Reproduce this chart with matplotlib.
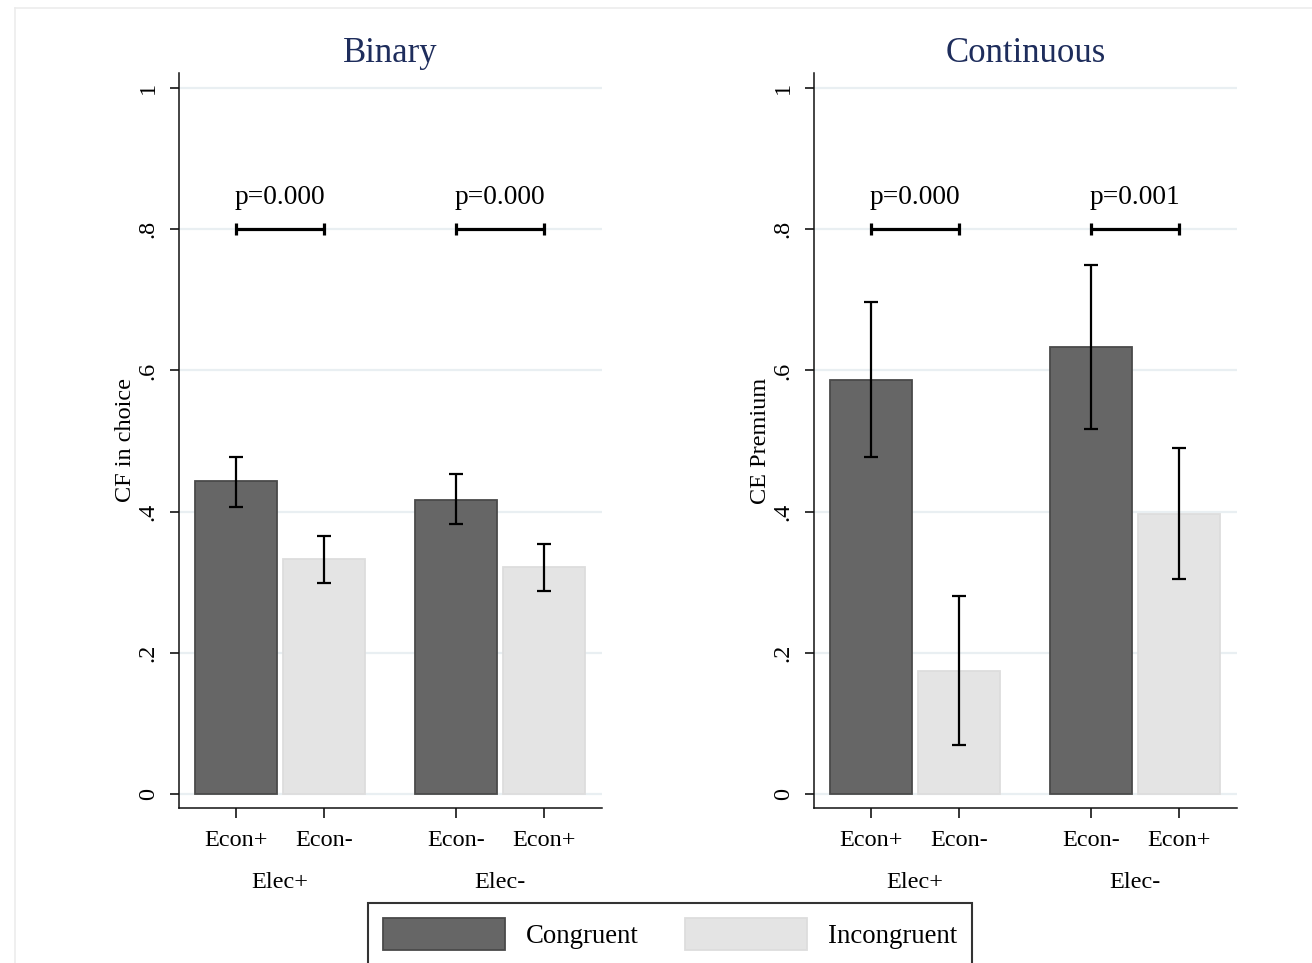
import matplotlib
matplotlib.use("Agg")
import matplotlib.pyplot as plt
from matplotlib.lines import Line2D
import numpy as np

# ---------------- data ----------------
bar_labels = ["Econ+", "Econ-", "Econ-", "Econ+"]
group_labels = ["Elec+", "Elec-"]
series_names = ["Congruent", "Incongruent"]
congruence = [0, 1, 0, 1]  # index into series_names

binary_mean = [0.4428, 0.3324, 0.4164, 0.3211]
binary_lo = [0.4070, 0.2993, 0.3824, 0.2880]
binary_hi = [0.4773, 0.3659, 0.4528, 0.3541]
binary_p = ["p=0.000", "p=0.000"]

cont_mean = [0.5862, 0.1745, 0.6330, 0.3967]
cont_lo = [0.4775, 0.0695, 0.5166, 0.3045]
cont_hi = [0.6973, 0.2808, 0.7498, 0.4898]
cont_p = ["p=0.000", "p=0.001"]

panel_titles = ["Binary", "Continuous"]
ylabels = ["CF in choice", "CE Premium"]
yticks = [0, 0.2, 0.4, 0.6, 0.8, 1.0]
ytick_labels = ["0", ".2", ".4", ".6", ".8", "1"]
bracket_y = 0.8

# ---------------- style ----------------
plt.rcParams['font.family'] = ['Liberation Serif', 'DejaVu Serif']
W, H = 1312, 963
fig = plt.figure(figsize=(W / 100, H / 100), dpi=100)
fig.patch.set_facecolor("white")

colors = ["#666666", "#e4e4e4"]
edges = ["#4a4a4a", "#dddddd"]
title_color = "#1e2d5c"
grid_color = "#e9eff2"

positions = np.array([0.0, 1.0, 2.5, 3.5])
group_centers = [0.5, 3.0]
width = 0.93
xlim = (-0.648, 4.159)
ylim = (-0.0198, 1.0212)

# faint outer graph-region border
fig.add_artist(Line2D([15 / W, 15 / W], [0, 1 - 8 / H], color="#ececec", lw=1.2,
                      transform=fig.transFigure))
fig.add_artist(Line2D([15 / W, 1], [1 - 8 / H, 1 - 8 / H], color="#ececec", lw=1.2,
                      transform=fig.transFigure))

ax_bottom = 1 - 808 / H
ax_height = (808 - 73) / H
lefts = [179, 814]
ax_w = 423

panels = [
    (binary_mean, binary_lo, binary_hi, binary_p),
    (cont_mean, cont_lo, cont_hi, cont_p),
]

handles = [None, None]
for k, (mean, lo, hi, pv) in enumerate(panels):
    ax = fig.add_axes([lefts[k] / W, ax_bottom, ax_w / W, ax_height])
    ax.set_xlim(*xlim)
    ax.set_ylim(*ylim)
    for s in ["top", "right"]:
        ax.spines[s].set_visible(False)
    for s in ["left", "bottom"]:
        ax.spines[s].set_linewidth(1.1)
        ax.spines[s].set_color("#111111")

    # grid
    ax.set_axisbelow(True)
    ax.yaxis.grid(True, color=grid_color, lw=1.6)

    mean = np.array(mean)
    lo = np.array(lo)
    hi = np.array(hi)
    for i in range(len(mean)):
        c = congruence[i]
        b = ax.bar(positions[i], mean[i], width=width, color=colors[c],
                   edgecolor=edges[c], linewidth=1.3, zorder=2)
        if handles[c] is None:
            handles[c] = b
    ax.errorbar(positions, mean, yerr=[mean - lo, hi - mean], fmt="none",
                ecolor="black", elinewidth=1.6, capsize=4.8, capthick=1.6, zorder=3)

    # p-value brackets
    for g in range(2):
        x0, x1 = positions[2 * g], positions[2 * g + 1]
        mid = (x0 + x1) / 2
        ax.errorbar([mid], [bracket_y], xerr=[(x1 - x0) / 2], fmt="none",
                    ecolor="black", elinewidth=2.3, capsize=4.5, capthick=2.3, zorder=3)
        ax.annotate(pv[g], xy=(mid, bracket_y), xytext=(0, 14), textcoords="offset points",
                    ha="center", va="bottom", fontsize=19.8)

    ax.set_yticks(yticks)
    ax.set_yticklabels(ytick_labels, rotation=90, va="center")
    ax.tick_params(axis="y", length=6.5, width=1.1, pad=8, labelsize=17.5)
    ax.set_xticks(positions)
    ax.set_xticklabels(bar_labels)
    ax.tick_params(axis="x", length=7, width=1.1, pad=9, labelsize=17.5)

    for g in range(2):
        ax.annotate(group_labels[g], xy=(group_centers[g], 0), xycoords=("data", "axes fraction"),
                    xytext=(0, -53.5), textcoords="offset points", ha="center", va="center",
                    fontsize=17.5)

    ax.set_ylabel(ylabels[k], fontsize=17.5, labelpad=1)
    ax.text(0.5, 1 + (73 - 53) / 735, panel_titles[k], transform=ax.transAxes,
            ha="center", va="center", fontsize=25, color=title_color)

leg = fig.legend(handles, series_names, loc="upper left",
                 bbox_to_anchor=(368 / W, 1 - 903 / H), ncol=2, fontsize=19.3,
                 frameon=True, fancybox=False, edgecolor="black",
                 handlelength=4.55, handleheight=1.5, handletextpad=0.8,
                 columnspacing=1.7, borderpad=0.55, borderaxespad=0)
leg.get_frame().set_linewidth(1.5)

fig.savefig("out.png", dpi=100, facecolor="white")
